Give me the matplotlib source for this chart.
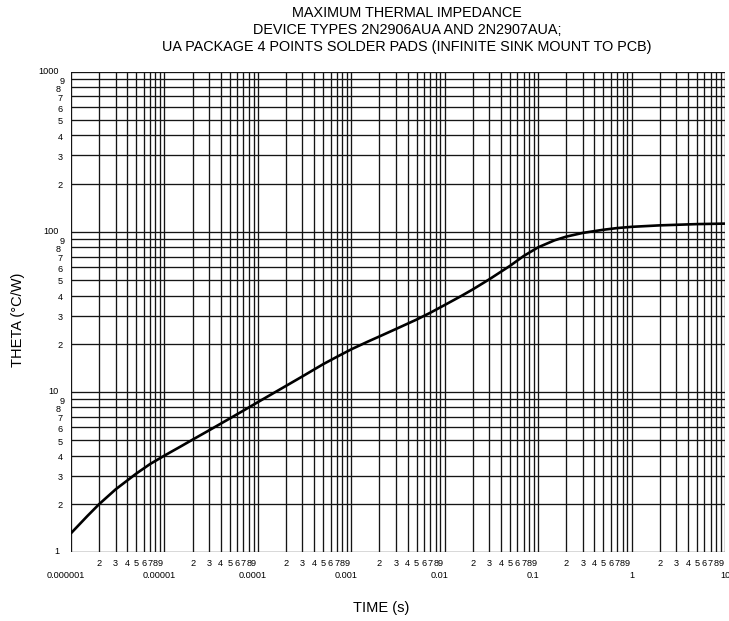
import numpy as np
import matplotlib
matplotlib.use('Agg')
import matplotlib.pyplot as plt
import matplotlib.transforms as mtransforms

plt.rcParams['font.family'] = ['Liberation Sans', 'DejaVu Sans']

# thermal impedance curve
time_s = [1e-6, 1.5e-6, 2e-6, 3e-6, 5e-6, 7e-6, 1e-5, 1.5e-5, 2e-5, 3e-5, 5e-5, 7e-5,
          1e-4, 2e-4, 3e-4, 5e-4, 7e-4, 1e-3, 1.5e-3, 2e-3, 3e-3, 5e-3, 7e-3,
          1e-2, 1.5e-2, 2e-2, 3e-2, 5e-2, 7e-2, 1e-1, 1.5e-1, 2e-1, 3e-1, 5e-1, 7e-1,
          1.0, 2.0, 5.0, 10.0]
theta = [1.31, 1.68, 1.99, 2.46, 3.09, 3.54, 4.0, 4.57, 5.03, 5.75, 6.82, 7.64,
         8.63, 10.9, 12.5, 14.9, 16.55, 18.45, 20.6, 22.2, 24.7, 28.3, 31.2,
         34.9, 39.7, 43.7, 50.5, 61.3, 70.6, 80.0, 88.5, 93.3, 98.4, 103.0, 105.5,
         107.4, 109.7, 111.7, 112.5]

title_lines = ['MAXIMUM THERMAL IMPEDANCE',
               'DEVICE TYPES 2N2906AUA AND 2N2907AUA;',
               'UA PACKAGE 4 POINTS SOLDER PADS (INFINITE SINK MOUNT TO PCB)']
x_major_labels = ['0.000001', '0.00001', '0.0001', '0.001', '0.01', '0.1', '1', '10']
y_major_labels = ['1', '10', '100', '1000']
minor_digits = [2, 3, 4, 5, 6, 7, 8, 9]

fig = plt.figure(figsize=(7.29, 6.21), dpi=100)
ax = fig.add_axes([71 / 729, 1 - 552 / 621, 654 / 729, (552 - 71.7) / 621])
ax.set_xscale('log')
ax.set_yscale('log')
ax.set_xlim(1e-6, 10)
ax.set_ylim(1, 1000)

# full log grid, every decade and every minor step
gcol = '#151515'
glw = 0.95
xdec = [10.0 ** e for e in range(-6, 1)]
ydec = [10.0 ** e for e in range(0, 3)]
for d in xdec:
    for m in [1] + minor_digits:
        ax.axvline(d * m, color=gcol, lw=glw, zorder=1)
ax.axvline(10, color=gcol, lw=glw, zorder=1)
for d in ydec:
    for m in [1] + minor_digits:
        ax.axhline(d * m, color=gcol, lw=glw, zorder=1)
ax.axhline(1000, color=gcol, lw=glw, zorder=1)

ax.plot(time_s, theta, color='black', lw=1.9, zorder=3,
        solid_capstyle='round', solid_joinstyle='round')

for s in ax.spines.values():
    s.set_visible(False)
ax.set_xticks([])
ax.set_yticks([])
ax.minorticks_off()

fs = 6.6
# x labels
xt = mtransforms.blended_transform_factory(ax.transData, fig.transFigure)
for d in xdec:
    for m in minor_digits:
        ax.text(d * m, 1 - 564 / 621, str(m), transform=xt, ha='center', va='center', fontsize=fs)
for i, lab in enumerate(x_major_labels):
    shift = 0 if lab in ('1', '10') else -5
    tr = xt + mtransforms.ScaledTranslation(shift / 100, 0, fig.dpi_scale_trans)
    ax.text(10.0 ** (i - 6), 1 - 575 / 621, lab, transform=tr, ha='center', va='center', fontsize=fs)

# y labels
yt = mtransforms.blended_transform_factory(fig.transFigure, ax.transData)
for i, lab in enumerate(y_major_labels):
    ax.text(59 / 729, 10.0 ** i, lab, transform=yt, ha='right', va='center', fontsize=fs)
for d in ydec:
    for m in minor_digits:
        xr = 65 if m == 9 else (61 if m == 8 else 63)
        tr = yt + mtransforms.ScaledTranslation(0, -2 / 100, fig.dpi_scale_trans)
        ax.text(xr / 729, d * m, str(m), transform=tr, ha='right', va='center', fontsize=fs)

for k, line in enumerate(title_lines):
    fig.text(407 / 729, 1 - (13 + 17 * k) / 621, line, ha='center', va='center', fontsize=10.4)

fig.text(18 / 729, 1 - 320 / 621, 'THETA (°C/W)', rotation=90, ha='center', va='center', fontsize=10.5)
fig.text(381 / 729, 1 - 608 / 621, 'TIME (s)', ha='center', va='center', fontsize=10.5)

fig.savefig('out.png', dpi=100)
